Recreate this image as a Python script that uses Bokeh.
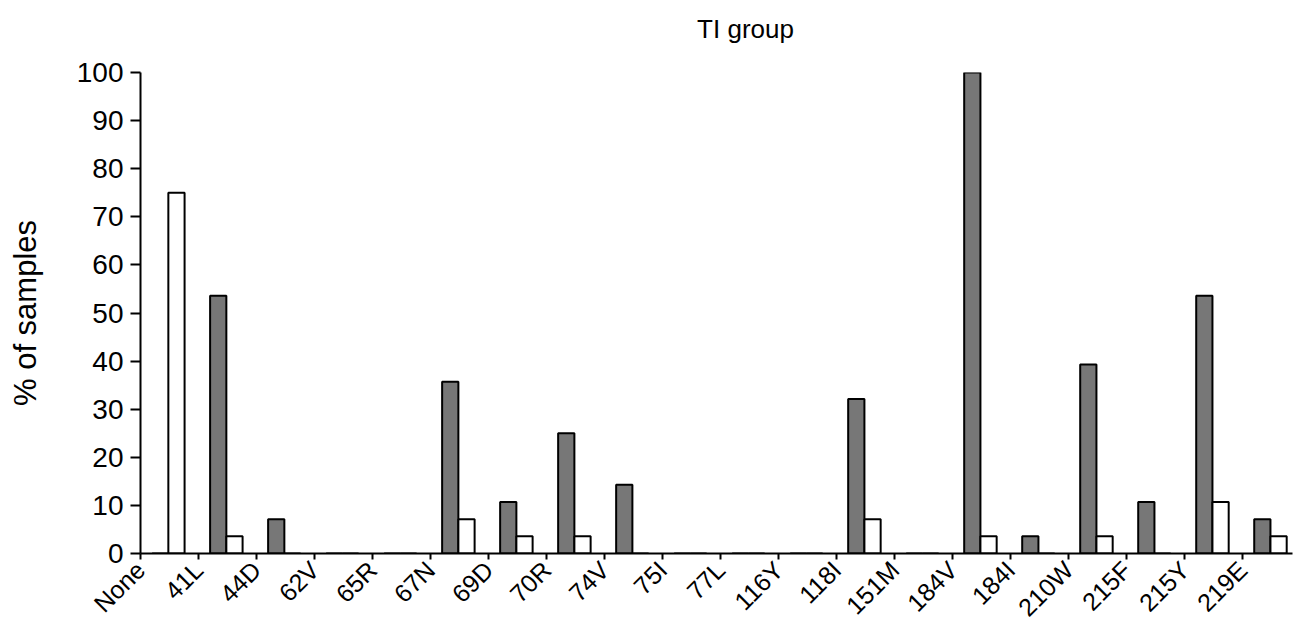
import math
from bokeh.plotting import figure
from bokeh.layouts import column
from bokeh.models import ColumnDataSource, FixedTicker, Range1d
from bokeh.transform import dodge
from bokeh.core.properties import value
from bokeh.embed import file_html
from bokeh.resources import INLINE

categories = ["None", "41L", "44D", "62V", "65R", "67N", "69D", "70R", "74V", "75I",
              "77L", "116Y", "118I", "151M", "184V", "184I", "210W", "215F", "215Y", "219E"]
grey_values = [0, 53.6, 7.1, 0, 0, 35.7, 10.7, 25.0, 14.3, 0,
               0, 0, 32.1, 0, 100, 3.6, 39.3, 10.7, 53.6, 7.1]
white_values = [75.0, 3.6, 0, 0, 0, 7.1, 3.6, 3.6, 0, 0,
                0, 0, 7.1, 0, 3.6, 0, 3.6, 0, 10.7, 3.6]
y_ticks = [0, 10, 20, 30, 40, 50, 60, 70, 80, 90, 100]
title_text = "TI group"
y_label = "% of samples"

FONT = "Liberation Sans"
W = 1301
LEFT, RIGHT = 140, 9
TITLE_H = 56        # title strip
MAIN_TOP = 16       # room for the "100" tick label
MAIN_FRAME_H = 482
MAIN_BOTTOM = 80
MAIN_H = MAIN_TOP + MAIN_FRAME_H + MAIN_BOTTOM

source = ColumnDataSource(dict(idx=list(range(len(categories))), cat=categories,
                               grey=grey_values, white=white_values))

x_end = 19.86
x_range = Range1d(0, x_end)

# ---- title strip
pt = figure(width=W, height=TITLE_H, output_backend="svg", toolbar_location=None,
            x_range=x_range, y_range=Range1d(0, TITLE_H),
            x_axis_location=None, y_axis_location=None,
            min_border_left=LEFT, min_border_right=RIGHT, min_border_top=0, min_border_bottom=0)
pt.outline_line_color = None
pt.xgrid.visible = False
pt.ygrid.visible = False
pt.text(x=[x_end / 2], y=[TITLE_H - 28], text=[title_text], x_offset=29,
        text_align="center", text_baseline="middle",
        text_font=value(FONT), text_font_size="26px", text_color="black")

# ---- main plot
p = figure(width=W, height=MAIN_H, output_backend="svg", toolbar_location=None,
           x_range=x_range, y_range=Range1d(0, 100),
           min_border_left=LEFT, min_border_right=RIGHT, min_border_top=MAIN_TOP,
           min_border_bottom=MAIN_BOTTOM)
p.outline_line_color = None
p.xgrid.visible = False
p.ygrid.visible = False

p.vbar(x=dodge("idx", 0.34), top="grey", width=0.28, bottom=0, source=source,
       fill_color="#777777", line_color="black", line_width=2)
p.vbar(x=dodge("idx", 0.62), top="white", width=0.28, bottom=0, source=source,
       fill_color="white", line_color="black", line_width=2)

xa = p.xaxis[0]
xa.ticker = FixedTicker(ticks=list(range(len(categories))))
xa.major_label_overrides = {i: c for i, c in enumerate(categories)}
xa.major_label_orientation = math.pi / 4
xa.major_label_text_font = FONT
xa.major_label_text_font_size = "25px"
xa.major_label_text_color = "black"
xa.major_label_standoff = 6
xa.major_tick_out = 6
xa.major_tick_in = 0
xa.minor_tick_line_color = None
xa.axis_line_width = 2
xa.major_tick_line_width = 2
xa.axis_line_color = "black"
xa.major_tick_line_color = "black"

ya = p.yaxis[0]
ya.ticker = FixedTicker(ticks=y_ticks)
ya.major_label_text_font = FONT
ya.major_label_text_font_size = "28px"
ya.major_label_text_color = "black"
ya.major_label_standoff = 7
ya.major_tick_out = 10
ya.major_tick_in = 0
ya.minor_tick_line_color = None
ya.axis_line_width = 2
ya.major_tick_line_width = 2
ya.axis_line_color = "black"
ya.major_tick_line_color = "black"
ya.axis_label = y_label
ya.axis_label_text_font = FONT
ya.axis_label_text_font_size = "31px"
ya.axis_label_text_font_style = "normal"
ya.axis_label_text_color = "black"
ya.axis_label_standoff = 31

layout = column(pt, p, spacing=0)
open("out.html", "w").write(file_html(layout, INLINE))
